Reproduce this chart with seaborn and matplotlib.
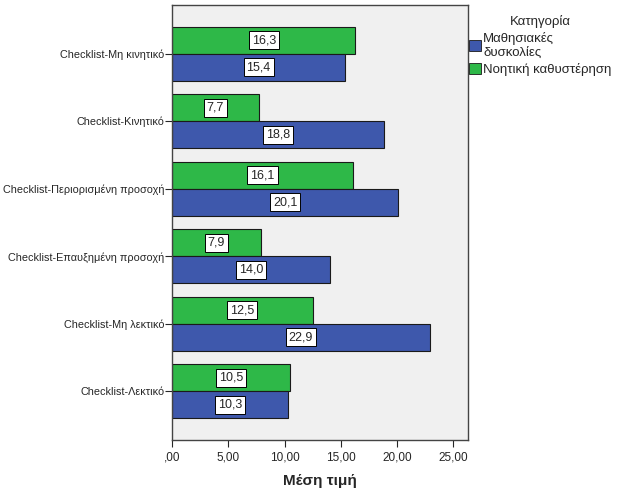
import pandas as pd
import numpy as np
import matplotlib.pyplot as plt
import seaborn as sns
from matplotlib.patches import Patch

categories = ["Checklist-Μη κινητικό", "Checklist-Κινητικό", "Checklist-Περιορισμένη προσοχή",
              "Checklist-Επαυξημένη προσοχή", "Checklist-Μη λεκτικό", "Checklist-Λεκτικό"]
groups = ["Μαθησιακές\nδυσκολίες", "Νοητική καθυστέρηση"]
mathisiakes = [15.4, 18.8, 20.1, 14.0, 22.9, 10.3]
noitiki = [16.3, 7.7, 16.1, 7.9, 12.5, 10.5]
xticks = [0, 5, 10, 15, 20, 25]
xtick_labels = [",00", "5,00", "10,00", "15,00", "20,00", "25,00"]

blue = '#3e58ac'
green = '#2eb848'

df = pd.DataFrame({
    'Κατηγορία_x': categories * 2,
    'Ομάδα': [groups[0]] * 6 + [groups[1]] * 6,
    'Τιμή': mathisiakes + noitiki,
})

sns.set_style("white")
plt.rcParams['font.family'] = ['Liberation Sans', 'DejaVu Sans']

fig = plt.figure(figsize=(6.26, 5.01), dpi=100)
ax = fig.add_axes([0.2748, 0.1218, 0.4728, 0.8682])
ax.set_facecolor('#f0f0f0')

sns.barplot(data=df, y='Κατηγορία_x', x='Τιμή', hue='Ομάδα', order=categories,
            hue_order=[groups[1], groups[0]], palette={groups[0]: blue, groups[1]: green},
            orient='h', width=0.8, edgecolor='#1a1a1a', linewidth=0.8, ax=ax,
            legend=False, saturation=1)

# value boxes centred in each bar
for cont in ax.containers:
    for bar in cont:
        w = bar.get_width()
        yc = bar.get_y() + bar.get_height() / 2
        ax.text(w / 2, yc, f"{w:.1f}".replace('.', ','), ha='center', va='center', fontsize=9,
                bbox=dict(boxstyle='square,pad=0.24', facecolor='white', edgecolor='black', linewidth=0.7))

ax.set_xlim(0, 26.3)
ax.set_ylim(5.72, -0.72)
ax.set_xticks(xticks)
ax.set_xticklabels(xtick_labels, fontsize=8.5)
ax.tick_params(axis='y', labelsize=7.8, length=5, left=True, width=0.8, pad=0.5)
ax.tick_params(axis='x', length=5, bottom=True, width=0.8, pad=3)
ax.set_ylabel("")
ax.set_xlabel("Μέση τιμή", fontsize=11, fontweight='bold', labelpad=8)
for s in ax.spines.values():
    s.set_color('#444444')
    s.set_linewidth(1.0)

handles = [Patch(facecolor=blue, edgecolor='#1a1a1a', linewidth=0.6),
           Patch(facecolor=green, edgecolor='#1a1a1a', linewidth=0.6)]
leg = ax.legend(handles, groups, title='Κατηγορία', loc='upper left', bbox_to_anchor=(1.0, 0.98),
                frameon=False, fontsize=9.5, title_fontsize=9.5, handlelength=0.9, handleheight=0.9,
                handletextpad=0.15, borderaxespad=0.0, borderpad=0.1, labelspacing=0.3)

fig.savefig("out.png", dpi=100)
